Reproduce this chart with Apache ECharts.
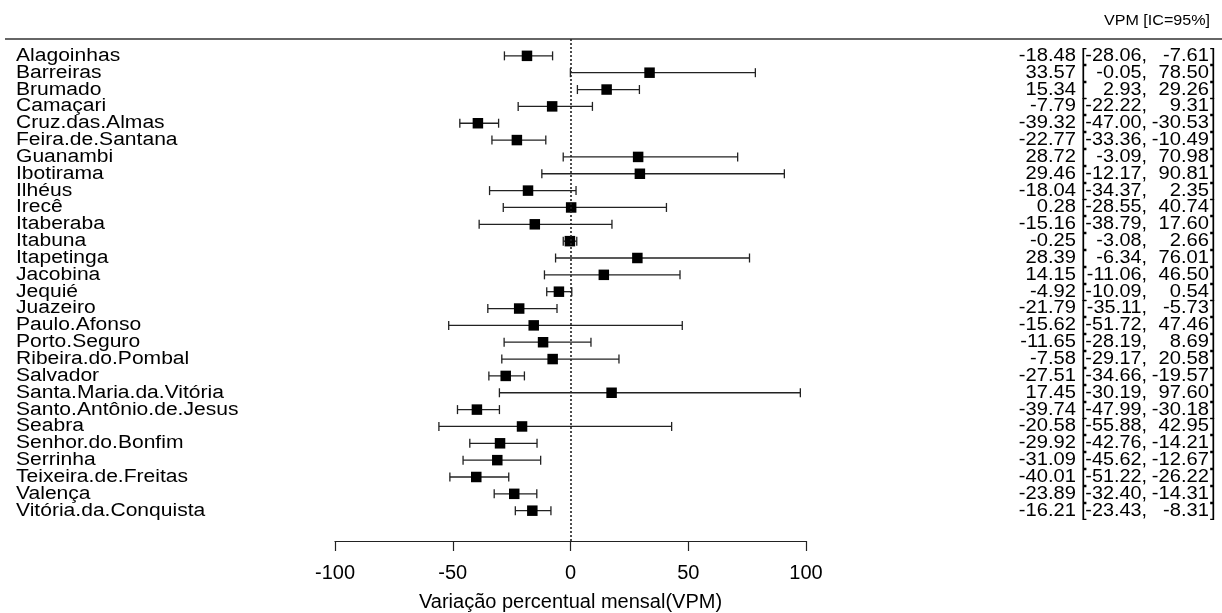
<!DOCTYPE html>
<html>
<head>
<meta charset="utf-8">
<script src="https://cdn.jsdelivr.net/npm/echarts@6/dist/echarts.min.js"></script>
<style>html,body{margin:0;padding:0;background:#fff;}#c{width:1222px;height:613px;}</style>
</head>
<body>
<div id="c"></div>
<script>
const cities = ["Alagoinhas","Barreiras","Brumado","Camaçari","Cruz.das.Almas","Feira.de.Santana","Guanambi","Ibotirama","Ilhéus","Irecê","Itaberaba","Itabuna","Itapetinga","Jacobina","Jequié","Juazeiro","Paulo.Afonso","Porto.Seguro","Ribeira.do.Pombal","Salvador","Santa.Maria.da.Vitória","Santo.Antônio.de.Jesus","Seabra","Senhor.do.Bonfim","Serrinha","Teixeira.de.Freitas","Valença","Vitória.da.Conquista"];
const vpm   = [-18.48,33.57,15.34,-7.79,-39.32,-22.77,28.72,29.46,-18.04,0.28,-15.16,-0.25,28.39,14.15,-4.92,-21.79,-15.62,-11.65,-7.58,-27.51,17.45,-39.74,-20.58,-29.92,-31.09,-40.01,-23.89,-16.21];
const lower = [-28.06,-0.05,2.93,-22.22,-47.00,-33.36,-3.09,-12.17,-34.37,-28.55,-38.79,-3.08,-6.34,-11.06,-10.09,-35.11,-51.72,-28.19,-29.17,-34.66,-30.19,-47.99,-55.88,-42.76,-45.62,-51.22,-32.40,-23.43];
const upper = [-7.61,78.50,29.26,9.31,-30.53,-10.49,70.98,90.81,2.35,40.74,17.60,2.66,76.01,46.50,0.54,-5.73,47.46,8.69,20.58,-19.57,97.60,-30.18,42.95,-14.21,-12.67,-26.22,-14.31,-8.31];
const xTicks = [-100,-50,0,50,100];
const header = "VPM [IC=95%]";
const xTitle = "Variação percentual mensal(VPM)";

const FONT = "Liberation Sans, Arial, sans-serif";
const chart = echarts.init(document.getElementById('c'), null, {renderer:'canvas'});
const data = cities.map((c,i)=>[vpm[i], lower[i], upper[i], i]);

function txt(x, y, s, align, size, sx){
  return {type:'text', x:x, y:y, scaleX:sx, silent:true,
    style:{text:s, x:0, y:0, fill:'#000', font: size+'px '+FONT,
      align:align, textAlign:align, verticalAlign:'middle', textVerticalAlign:'middle'}};
}

chart.setOption({
  animation:false,
  backgroundColor:'#fff',
  grid:{left:335, right:416, top:39, bottom:72, containLabel:false, outerBoundsMode:'none'},
  xAxis:{type:'value', min:xTicks[0], max:xTicks[xTicks.length-1], interval:50,
    splitLine:{show:false},
    axisLine:{show:true, onZero:false, lineStyle:{color:'#222', width:1.2}},
    axisTick:{show:true, length:10, lineStyle:{color:'#222', width:1.2}},
    axisLabel:{fontSize:20, fontFamily:FONT, color:'#000', margin:22},
    name:xTitle, nameLocation:'middle', nameGap:51,
    nameTextStyle:{fontSize:20, fontFamily:FONT, color:'#000'}},
  yAxis:{type:'value', inverse:true, min:-1, max:28.8, show:false},
  graphic:[
    {type:'line', shape:{x1:5,y1:39,x2:1222,y2:39}, style:{stroke:'#333', lineWidth:1.5}},
    {type:'text', x:1210, y:21, scaleX:1.15, style:{text:header, fill:'#000', font:'14px '+FONT, align:'right', verticalAlign:'middle'}}
  ],
  series:[{
    type:'custom', clip:false, data:data,
    renderItem:function(params, api){
      const i = api.value(3);
      const pE = api.coord([api.value(0), i]);
      const pL = api.coord([api.value(1), i]);
      const pH = api.coord([api.value(2), i]);
      const y = pE[1];
      const st = {stroke:'#222', lineWidth:1.3};
      const sq = 10.5;
      return {type:'group', children:[
        {type:'line', shape:{x1:pL[0],y1:y,x2:pH[0],y2:y}, style:st},
        {type:'line', shape:{x1:pL[0],y1:y-4.5,x2:pL[0],y2:y+4.5}, style:st},
        {type:'line', shape:{x1:pH[0],y1:y-4.5,x2:pH[0],y2:y+4.5}, style:st},
        {type:'rect', shape:{x:pE[0]-sq/2, y:y-sq/2, width:sq, height:sq}, style:{fill:'#000'}},
        txt(16, y, cities[i], 'left', 18, 1.17),
        txt(1076, y, vpm[i].toFixed(2), 'right', 18, 1.12),
        txt(1081, y, '[', 'left', 18, 1.12),
        txt(1147, y, lower[i].toFixed(2)+',', 'right', 18, 1.1),
        txt(1209, y, upper[i].toFixed(2), 'right', 18, 1.12),
        txt(1210, y, ']', 'left', 18, 1.12)
      ]};
    },
    markLine:{silent:true, symbol:'none', label:{show:false},
      lineStyle:{type:[2,2], color:'#222', width:1.6},
      data:[{xAxis:0}]}
  }]
});
</script>
</body>
</html>
